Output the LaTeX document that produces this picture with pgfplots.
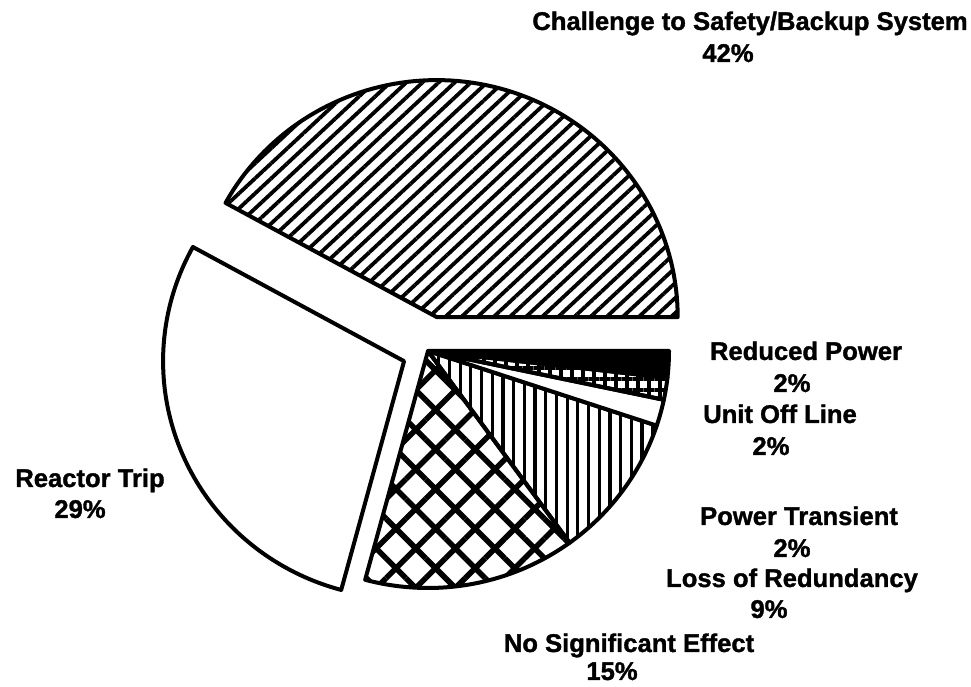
\documentclass[border=0pt]{standalone}
\usepackage{pgfplots}
\pgfplotsset{compat=1.18}
\usepackage{fontspec}
\setmainfont{Liberation Sans}[BoldFeatures={FakeBold=1.3}]
\usetikzlibrary{patterns.meta}

% slice shares (percent of the pie)
\def\vCh{42}   % Challenge to Safety/Backup System
\def\vRT{28.8} % Reactor Trip
\def\vNS{14.2} % No Significant Effect
\def\vLR{9.9}  % Loss of Redundancy
\def\vPT{1.8}  % Power Transient
\def\vUO{1.5}  % Unit Off Line
\def\vRP{1.8}  % Reduced Power

\begin{document}
\begin{tikzpicture}
\pgfmathsetmacro\aA{0}
\pgfmathsetmacro\aB{\aA+3.6*\vCh}
\pgfmathsetmacro\aC{\aB+3.6*\vRT}
\pgfmathsetmacro\aD{\aC+3.6*\vNS}
\pgfmathsetmacro\aE{\aD+3.6*\vLR}
\pgfmathsetmacro\aF{\aE+3.6*\vPT}
\pgfmathsetmacro\aG{\aF+3.6*\vUO}
\pgfmathsetmacro\aH{\aG+3.6*\vRP}
% centre and explosion offsets
\def\cx{428}\def\cy{336}
\pgfmathsetmacro\cxA{\cx+35*cos((\aA+\aB)/2)}
\pgfmathsetmacro\cyA{\cy+35*sin((\aA+\aB)/2)}
\pgfmathsetmacro\cxB{\cx+26*cos((\aB+\aC)/2)}
\pgfmathsetmacro\cyB{\cy+26*sin((\aB+\aC)/2)}
\def\rx{241}\def\ry{237}
\useasboundingbox (0,0) rectangle (971pt,687pt);
\begin{axis}[at={(0,0)}, anchor=south west, width=971pt, height=687pt,
  scale only axis, xmin=0, xmax=971, ymin=0, ymax=687, hide axis, clip=false]
\pgfplotsset{slice/.style={black, mark=none, line width=4pt, line join=round, samples=90}}
% Challenge
\addplot[slice, pattern={Lines[angle=43,distance=11pt,line width=3.8pt]}, domain=\aA:\aB]
  ({\cxA+\rx*cos(x)}, {\cyA+\ry*sin(x)}) -- (axis cs:\cxA,\cyA) -- cycle;
% Reactor Trip
\addplot[slice, fill=white, domain=\aB:\aC]
  ({\cxB+\rx*cos(x)}, {\cyB+\ry*sin(x)}) -- (axis cs:\cxB,\cyB) -- cycle;
% No Significant Effect
\addplot[slice, pattern={Hatch[angle=45,distance=28pt,line width=5.5pt]}, domain=\aC:\aD]
  ({\cx+\rx*cos(x)}, {\cy+\ry*sin(x)}) -- (axis cs:\cx,\cy) -- cycle;
% Loss of Redundancy
\addplot[slice, pattern={Lines[angle=90,distance=10.7pt,line width=3.2pt]}, domain=\aD:\aE]
  ({\cx+\rx*cos(x)}, {\cy+\ry*sin(x)}) -- (axis cs:\cx,\cy) -- cycle;
% Power Transient
\addplot[slice, fill=white, domain=\aE:\aF, samples=20]
  ({\cx+\rx*cos(x)}, {\cy+\ry*sin(x)}) -- (axis cs:\cx,\cy) -- cycle;
% Unit Off Line
\addplot[slice, pattern={Hatch[angle=0,distance=11pt,line width=3.6pt]}, domain=\aF:\aG, samples=20]
  ({\cx+\rx*cos(x)}, {\cy+\ry*sin(x)}) -- (axis cs:\cx,\cy) -- cycle;
% Reduced Power
\addplot[slice, fill=black, domain=\aG:\aH, samples=20]
  ({\cx+\rx*cos(x)}, {\cy+\ry*sin(x)}) -- (axis cs:\cx,\cy) -- cycle;

\tikzset{lab/.style={anchor=base, inner sep=0pt, font=\fontsize{25.6}{30}\selectfont\bfseries}}
\node[lab] at (axis cs:750,657) {Challenge to Safety/Backup System};
\node[lab] at (axis cs:728,625) {42\%};
\node[lab] at (axis cs:90,200) {Reactor Trip};
\node[lab] at (axis cs:80,169) {29\%};
\node[lab] at (axis cs:806,327) {Reduced Power};
\node[lab] at (axis cs:792,295) {2\%};
\node[lab] at (axis cs:780,264) {Unit Off Line};
\node[lab] at (axis cs:771,232) {2\%};
\node[lab] at (axis cs:799,162) {Power Transient};
\node[lab] at (axis cs:792,130) {2\%};
\node[lab] at (axis cs:792,100) {Loss of Redundancy};
\node[lab] at (axis cs:769,69) {9\%};
\node[lab] at (axis cs:629,35) {No Significant Effect};
\node[lab] at (axis cs:612,7) {15\%};
\end{axis}
\end{tikzpicture}
\end{document}
